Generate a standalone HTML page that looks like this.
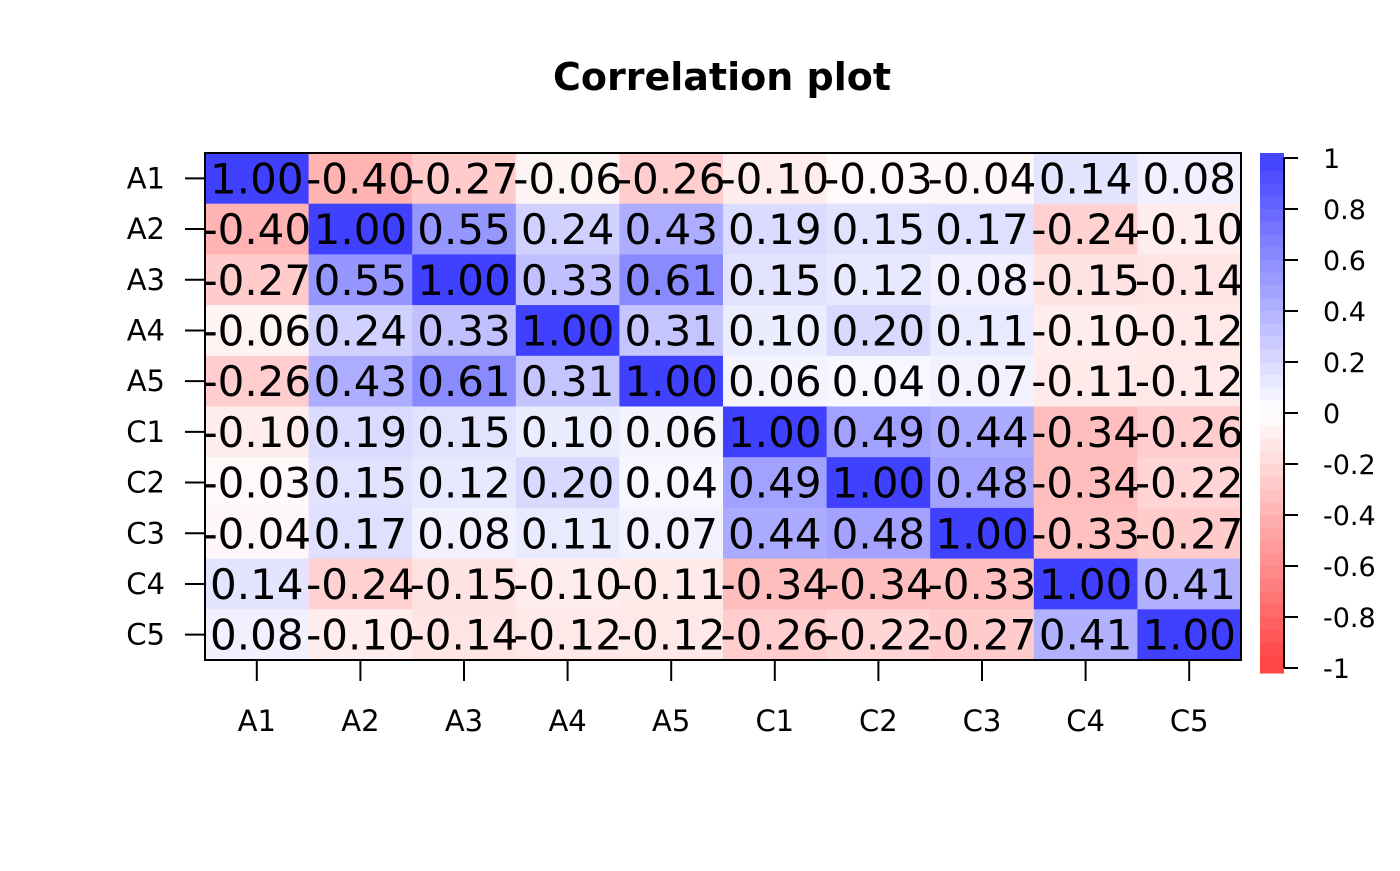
<!DOCTYPE html>
<html><head><meta charset="utf-8"><style>
html,body{margin:0;padding:0;background:#fff;}
svg text{font-family:"DejaVu Sans","Liberation Sans",sans-serif;}
</style></head><body>
<svg id="chart" width="1400" height="866" xmlns="http://www.w3.org/2000/svg">
<text x="722" y="90" text-anchor="middle" font-size="38" font-weight="bold">Correlation plot</text>
<g id="cells"></g>
<g id="axes"></g>
<g id="legend"></g>
</svg>
<script>
const labels = ["A1","A2","A3","A4","A5","C1","C2","C3","C4","C5"];
const corr = [
[1.00,-0.40,-0.27,-0.06,-0.26,-0.10,-0.03,-0.04,0.14,0.08],
[-0.40,1.00,0.55,0.24,0.43,0.19,0.15,0.17,-0.24,-0.10],
[-0.27,0.55,1.00,0.33,0.61,0.15,0.12,0.08,-0.15,-0.14],
[-0.06,0.24,0.33,1.00,0.31,0.10,0.20,0.11,-0.10,-0.12],
[-0.26,0.43,0.61,0.31,1.00,0.06,0.04,0.07,-0.11,-0.12],
[-0.10,0.19,0.15,0.10,0.06,1.00,0.49,0.44,-0.34,-0.26],
[-0.03,0.15,0.12,0.20,0.04,0.49,1.00,0.48,-0.34,-0.22],
[-0.04,0.17,0.08,0.11,0.07,0.44,0.48,1.00,-0.33,-0.27],
[0.14,-0.24,-0.15,-0.10,-0.11,-0.34,-0.34,-0.33,1.00,0.41],
[0.08,-0.10,-0.14,-0.12,-0.12,-0.26,-0.22,-0.27,0.41,1.00]];
const legendTicks = [1,0.8,0.6,0.4,0.2,0,-0.2,-0.4,-0.6,-0.8,-1];
const legendTickLabels = ["1","0.8","0.6","0.4","0.2","0","-0.2","-0.4","-0.6","-0.8","-1"];

const NS="http://www.w3.org/2000/svg";
const L=205,R=1241,T=153,B=660;
const n=labels.length, cw=(R-L)/n, ch=(B-T)/n;
const xPos=i=>L+i*cw, yPos=j=>T+j*ch;
function color(v){
  const t=Math.min(1,Math.abs(v));
  const q=Math.round(255-t*191);
  return v>=0?`rgb(${q},${q},255)`:`rgb(255,${q},${q})`;
}
function mk(tag,attrs,parent,txt){const e=document.createElementNS(NS,tag);for(const k in attrs)e.setAttribute(k,attrs[k]);if(txt!==undefined)e.textContent=txt;parent.appendChild(e);return e;}
const cells=document.getElementById('cells');
corr.forEach((row,j)=>row.forEach((v,i)=>{
  const r=mk('rect',{x:xPos(i),y:yPos(j),width:cw+0.5,height:ch+0.5,fill:color(v)},cells);
  
  
}));
corr.forEach((row,j)=>row.forEach((v,i)=>{
  const t=mk('text',{x:xPos(i)+cw/2,y:yPos(j)+ch/2+15,'text-anchor':'middle','font-size':42},cells,v.toFixed(2));
  
  
}));
const ax=document.getElementById('axes');
const box=mk('rect',{x:L,y:T,width:R-L,height:B-T,fill:'none',stroke:'#000','stroke-width':2},ax);


labels.forEach((lab,i)=>{
  const cx=xPos(i)+cw/2;
  mk('line',{x1:cx,x2:cx,y1:B,y2:681,stroke:'#000','stroke-width':2},ax);
  const tx=mk('text',{x:cx,y:731,'text-anchor':'middle','font-size':29},ax,lab);
  
  
  const cy=yPos(i)+ch/2;
  mk('line',{x1:185,x2:L,y1:cy,y2:cy,stroke:'#000','stroke-width':2},ax);
  const ty=mk('text',{x:165,y:cy+10,'text-anchor':'end','font-size':29},ax,lab);
  
  
});
const lg=document.getElementById('legend');
const LT=158,LB=668,bx=1260,bw=24;
const ly=v=>LT+(1-v)/2*(LB-LT);
const steps=40;
for(let k=0;k<steps;k++){
  const v1=1-k*2/steps, v2=v1-2/steps, vm=(v1+v2)/2;
  const y1=k===0?153:ly(v1), y2=k===steps-1?673:ly(v2);
  const r=mk('rect',{x:bx,y:y1,width:bw,height:y2-y1+0.5,fill:color(vm)},lg);
  
  
}
mk('line',{x1:1284,x2:1284,y1:ly(1),y2:ly(-1),stroke:'#000','stroke-width':2},lg);
legendTicks.forEach((v,k)=>{
  mk('line',{x1:1284,x2:1298,y1:ly(v),y2:ly(v),stroke:'#000','stroke-width':2},lg);
  const t=mk('text',{x:1323,y:ly(v)+10,'font-size':27},lg,legendTickLabels[k]);
  
  
});
</script>
</body></html>
